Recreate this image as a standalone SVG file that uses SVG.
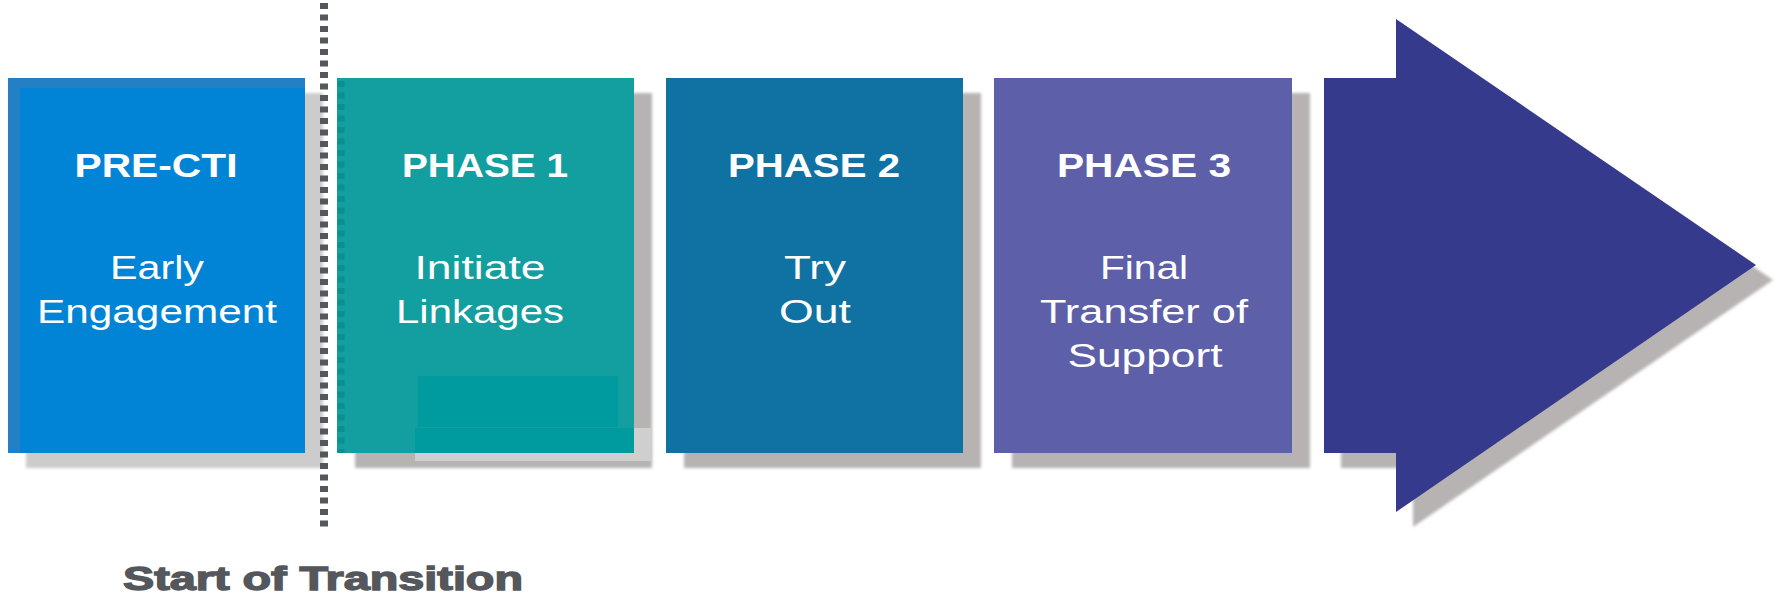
<svg xmlns="http://www.w3.org/2000/svg" width="1779" height="598" viewBox="0 0 1779 598">
<style>
.t{font-family:"Liberation Sans",Arial,sans-serif;font-size:33px;fill:#ffffff;text-anchor:middle}
.b{font-weight:bold}
.sh{fill:#b6b3b2;filter:url(#blur)}
</style>
<defs>
<filter id="blur" x="-5%" y="-5%" width="110%" height="110%"><feGaussianBlur stdDeviation="1.5"/></filter>
</defs>
<rect width="1779" height="598" fill="#ffffff"/>
<g id="connectors">
<line x1="341" y1="19" x2="341" y2="547" stroke="#cfcfcf" stroke-width="7" stroke-dasharray="6 5.5" filter="url(#blur)"/>
</g>
<g id="pre-cti">
<rect x="26" y="93" width="297" height="375" fill="#cccccc" filter="url(#blur)"/>
<rect x="8" y="78" width="297" height="375" fill="#2380c4"/>
<rect x="20" y="88" width="285" height="365" fill="#0284d6"/>
<text class="t b" x="156" y="177" textLength="163" lengthAdjust="spacingAndGlyphs">PRE-CTI</text>
<text class="t" x="157" y="279" textLength="94" lengthAdjust="spacingAndGlyphs">Early</text>
<text class="t" x="157" y="323" textLength="240" lengthAdjust="spacingAndGlyphs">Engagement</text>
</g>
<g id="phase1">
<rect class="sh" x="355" y="93" width="297" height="375"/>
<rect x="415" y="428" width="237" height="33" fill="#cfcfcf"/>
<rect x="337" y="78" width="297" height="375" fill="#139e9f"/>
<rect x="418" y="376" width="200" height="51" fill="#009b9e"/>
<rect x="415" y="428" width="219" height="25" fill="#009b9e"/>
<line x1="341" y1="80" x2="341" y2="453" stroke="#0c8f90" stroke-width="7" stroke-dasharray="6 5.5" stroke-dashoffset="-1"/>
<text class="t b" x="485" y="177" textLength="166" lengthAdjust="spacingAndGlyphs">PHASE 1</text>
<text class="t" x="480" y="279" textLength="131" lengthAdjust="spacingAndGlyphs">Initiate</text>
<text class="t" x="480" y="323" textLength="168" lengthAdjust="spacingAndGlyphs">Linkages</text>
</g>
<g id="phase2">
<rect class="sh" x="684" y="93" width="297" height="375"/>
<rect x="666" y="78" width="297" height="375" fill="#0f72a2"/>
<text class="t b" x="814" y="177" textLength="172" lengthAdjust="spacingAndGlyphs">PHASE 2</text>
<text class="t" x="815" y="279" textLength="62" lengthAdjust="spacingAndGlyphs">Try</text>
<text class="t" x="815" y="323" textLength="72" lengthAdjust="spacingAndGlyphs">Out</text>
</g>
<g id="phase3">
<rect class="sh" x="1012" y="93" width="298" height="375"/>
<rect x="994" y="78" width="298" height="375" fill="#5d5fa9"/>
<text class="t b" x="1144" y="177" textLength="174" lengthAdjust="spacingAndGlyphs">PHASE 3</text>
<text class="t" x="1144" y="279" textLength="88" lengthAdjust="spacingAndGlyphs">Final</text>
<text class="t" x="1144" y="323" textLength="208" lengthAdjust="spacingAndGlyphs">Transfer of</text>
<text class="t" x="1145" y="367" textLength="155" lengthAdjust="spacingAndGlyphs">Support</text>
</g>
<g id="arrow">
<polygon class="sh" transform="translate(17,15)" points="1324,78 1396,78 1396,19 1756,265 1396,512 1396,453 1324,453"/>
<polygon fill="#353a8c" points="1324,78 1396,78 1396,19 1756,265 1396,512 1396,453 1324,453"/>
</g>
<g id="transition-line">
<line x1="324" y1="3" x2="324" y2="532" stroke="#54575c" stroke-width="8" stroke-dasharray="6 5.5"/>
</g>
<g id="label">
<text x="323" y="590" font-family="Liberation Sans, Arial, sans-serif" font-size="34" font-weight="bold" fill="#54575c" stroke="#54575c" stroke-width="1.4" text-anchor="middle" textLength="400" lengthAdjust="spacingAndGlyphs">Start of Transition</text>
</g>
</svg>
